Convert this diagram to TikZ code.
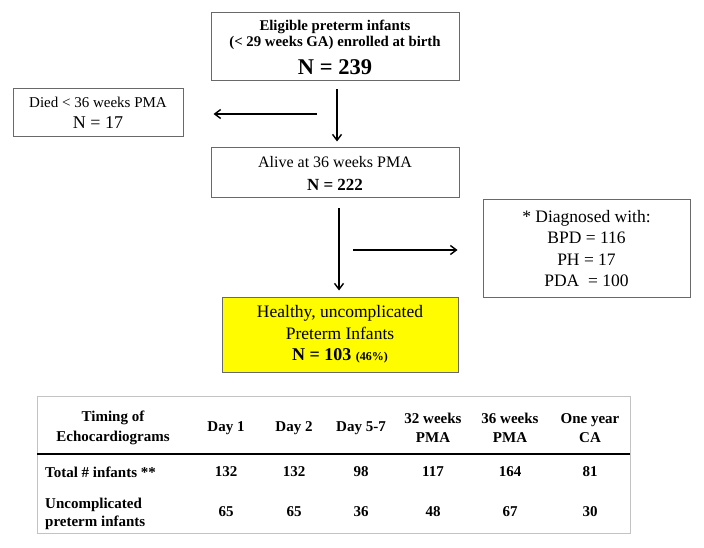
\documentclass[tikz,border=0pt]{standalone}
\usepackage{fontspec}
\setmainfont{Liberation Serif}
\usetikzlibrary{arrows.meta}
\definecolor{boxgray}{RGB}{105,105,105}
\definecolor{tblgray}{RGB}{195,195,195}
\definecolor{hiyellow}{RGB}{255,252,0}
\begin{document}
\begin{tikzpicture}[x=1pt,y=-1pt,
  box/.style={draw=boxgray,line width=1pt,inner sep=0pt,align=center},
  arr/.style={line width=1.4pt,-{Straight Barb[length=6pt,width=9pt]}},
  th/.style={font=\fontsize{15}{19.5}\selectfont\bfseries,align=center,inner sep=0pt},
  td/.style={font=\fontsize{15}{19}\selectfont\bfseries,inner sep=0pt},
  rl/.style={font=\fontsize{15}{18}\selectfont\bfseries,align=left,anchor=west,inner sep=0pt}
]
\useasboundingbox (0,0) rectangle (704,548);

% flow boxes
\node[box,minimum width=248pt,minimum height=68pt,
      font=\fontsize{14.8}{16.5}\selectfont\bfseries] (top) at (335,47)
  {Eligible preterm infants\\
   (< 29 weeks GA) enrolled at birth\\[8.5pt]
   {\fontsize{22.5}{24}\selectfont N = 239}};
\node[box,minimum width=170pt,minimum height=48pt,
      font=\fontsize{15}{21}\selectfont] (died) at (98,113)
  {Died < 36 weeks PMA\\
   {\fontsize{18}{21}\selectfont N = 17}};
\node[box,minimum width=248pt,minimum height=50pt,
      font=\fontsize{16}{23}\selectfont] (alive) at (335,173)
  {Alive at 36 weeks PMA\\
   {\fontsize{17}{23}\selectfont\bfseries N = 222}};
\node[box,minimum width=207pt,minimum height=97pt,
      font=\fontsize{17.5}{21.5}\selectfont] (diag) at (586.5,248.5)
  {* Diagnosed with:\\
   BPD = 116\\ PH = 17\\ PDA \ = 100};
\node[box,fill=hiyellow,minimum width=236pt,minimum height=75pt,
      font=\fontsize{17.5}{21.5}\selectfont] (healthy) at (340,334.5)
  {Healthy, uncomplicated\\
   Preterm Infants\\
   {\fontsize{18}{21.5}\selectfont\bfseries N = 103 {\fontsize{12}{14}\selectfont (46\%)}}};

% connectors
\coordinate (split1) at (317,114);
\coordinate (split2) at (353,250);
\draw[arr] ([xshift=2pt,yshift=-8pt]top.south) -- ([xshift=2pt,yshift=6pt]alive.north);
\draw[arr] (split1) -- ([xshift=30pt,yshift=-1pt]died.east);
\draw[arr] ([xshift=4pt,yshift=-10pt]alive.south) -- ([xshift=-1pt,yshift=6pt]healthy.north);
\draw[arr] (split2) -- ([xshift=-25pt,yshift=-1.5pt]diag.west);

% table
\draw[tblgray,line width=1pt] (37,396) rectangle (630,533);
\draw[black,line width=2.5pt] (37,454) -- (630,454);

\node[th] (h0) at (113,428) {Timing of\\Echocardiograms};
\node[th] (h1) at (226,428) {Day 1};
\node[th] (h2) at (294,428) {Day 2};
\node[th] (h3) at (361,428) {Day 5-7};
\node[th] (h4) at (433,428) {32 weeks\\PMA};
\node[th] (h5) at (510,428) {36 weeks\\PMA};
\node[th] (h6) at (590,428) {One year\\CA};

\node[rl] (r1) at (45,472) {Total \# infants **};
\node[td] (a1) at (226,472) {132};
\node[td] (a2) at (294,472) {132};
\node[td] (a3) at (361,472) {98};
\node[td] (a4) at (433,472) {117};
\node[td] (a5) at (510,472) {164};
\node[td] (a6) at (590,472) {81};

\node[rl] (r2) at (45,514) {Uncomplicated\\preterm infants};
\node[td] (b1) at (226,512) {65};
\node[td] (b2) at (294,512) {65};
\node[td] (b3) at (361,512) {36};
\node[td] (b4) at (433,512) {48};
\node[td] (b5) at (510,512) {67};
\node[td] (b6) at (590,512) {30};
\end{tikzpicture}
\end{document}
